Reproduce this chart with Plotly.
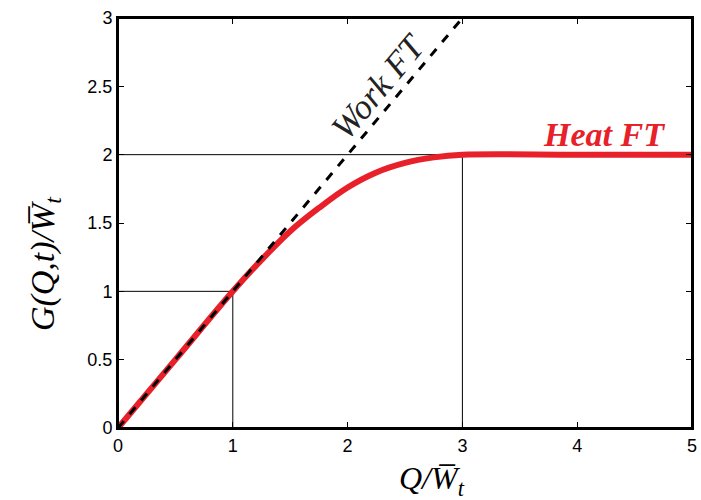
import plotly.graph_objects as go

# Data
work_x = [0, 3]
work_y = [0, 3]

heat_x = [0, 0.5, 1.0, 1.25, 1.5, 1.75, 2.0, 2.25, 2.5, 2.75, 3.0, 4.0, 5.0]
heat_y = [0, 0.5, 1.0, 1.23, 1.44, 1.61, 1.76, 1.87, 1.94, 1.98, 2.0, 2.0, 2.0]

guide1_x = [0, 1, 1]
guide1_y = [1, 1, 0]
guide2_x = [0, 3, 3]
guide2_y = [2, 2, 0]

x_ticks = [0, 1, 2, 3, 4, 5]
y_ticks = [0, 0.5, 1, 1.5, 2, 2.5, 3]
y_ticklabels = ["0", "0.5", "1", "1.5", "2", "2.5", "3"]

fig = go.Figure()
for gx, gy in [(guide1_x, guide1_y), (guide2_x, guide2_y)]:
    fig.add_trace(go.Scatter(x=gx, y=gy, mode="lines",
                             line=dict(color="black", width=1), showlegend=False))
fig.add_trace(go.Scatter(x=heat_x, y=heat_y, mode="lines", line_shape="spline",
                         line=dict(color="#e8202a", width=6), showlegend=False))
fig.add_trace(go.Scatter(x=work_x, y=work_y, mode="lines",
                         line=dict(color="black", width=3, dash="dash"), showlegend=False))

fig.add_annotation(x=2.27, y=2.5, text="<i>Work FT</i>", showarrow=False,
                   textangle=-50, font=dict(family="Liberation Serif", size=35, color="#222"))
fig.add_annotation(x=4.23, y=2.15, text="<b><i>Heat FT</i></b>", showarrow=False,
                   font=dict(family="Liberation Serif", size=34, color="#e8202a"))

# axis titles as annotations (offset as in the reference)
fig.add_annotation(xref="paper", yref="paper", x=0.547, y=-0.127, yanchor="middle",
                   text="<i>Q/W\u0305<sub>t</sub></i>", showarrow=False,
                   font=dict(family="Liberation Serif", size=32, color="black"))
fig.add_annotation(xref="paper", yref="paper", x=-0.127, y=0.40, xanchor="center",
                   text="<i>G(Q,t)/W\u0305<sub>t</sub></i>", showarrow=False, textangle=-90,
                   font=dict(family="Liberation Serif", size=34, color="black"))

axis_common = dict(showline=True, linecolor="black", linewidth=2, mirror="allticks",
                   ticks="inside", ticklen=6, tickwidth=1, tickcolor="black",
                   showgrid=False, zeroline=False, automargin=False,
                   tickfont=dict(family="Liberation Sans", size=18, color="black"))

fig.update_xaxes(range=[0, 5], tickvals=x_ticks, **axis_common)
fig.update_yaxes(range=[0, 3], tickvals=y_ticks, ticktext=y_ticklabels, **axis_common)

fig.add_shape(type="rect", xref="paper", yref="paper", x0=0, y0=0, x1=1, y1=1,
              line=dict(color="black", width=2), layer="above")

fig.update_layout(width=701, height=500, plot_bgcolor="white", paper_bgcolor="white",
                  margin=dict(l=118, r=9, t=18, b=72, autoexpand=False))

fig.write_html("out.html", config={"displayModeBar": False},
               post_script="document.body.style.margin='0';document.body.style.overflow='hidden';")
